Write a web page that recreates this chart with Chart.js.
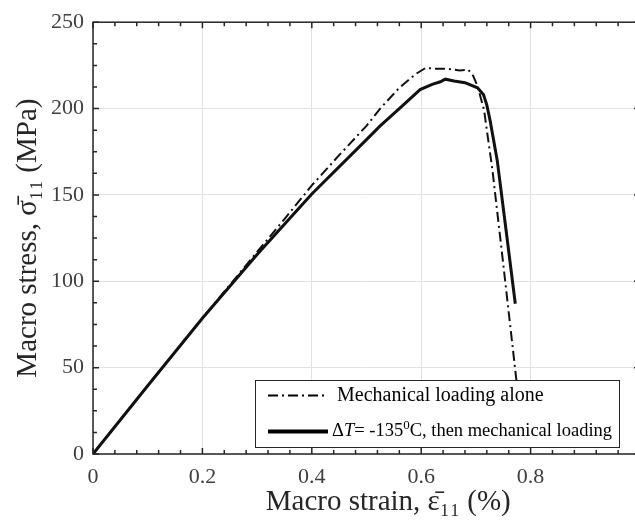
<!DOCTYPE html>
<html lang="en">
<head>
<meta charset="UTF-8">
<title>Macro stress vs macro strain</title>
<script src="https://cdn.jsdelivr.net/npm/chart.js"></script>
<style>
  html, body { margin: 0; padding: 0; background: #fff; overflow: hidden; }
  #wrap { width: 645px; height: 520px; }
</style>
</head>
<body>
<div id="wrap"><canvas id="myChart"></canvas></div>
<script>
// curves: strain in %, stress in MPa
const mechStrain = [0, 0.1, 0.2, 0.3, 0.35, 0.4, 0.45, 0.5, 0.525, 0.56, 0.59, 0.608, 0.63, 0.65, 0.67, 0.686, 0.695, 0.703, 0.715, 0.722, 0.73, 0.75, 0.775];
const mechStress = [0, 39.5, 78.6, 117, 136, 155.5, 173, 190, 200, 212, 220, 223.5, 223, 223, 222, 222.5, 219, 213, 199, 183, 165, 110, 40];

const thermStrain = [0, 0.1, 0.2, 0.3, 0.4, 0.5, 0.525, 0.56, 0.598, 0.62, 0.635, 0.644, 0.66, 0.68, 0.703, 0.714, 0.72, 0.726, 0.739, 0.755, 0.772];
const thermStress = [0, 39.5, 78.6, 115.5, 150.5, 182, 190, 200, 211, 214, 215.5, 217, 216, 215, 212, 208, 202, 193, 170, 130, 87];

const xTicks = [0, 0.2, 0.4, 0.6, 0.8];
const yTicks = [0, 50, 100, 150, 200, 250];
const xMinor = 0.04;
const yMinor = 12.5;

const axisColor = '#262626';
const serif = "'Liberation Serif', 'DejaVu Serif', serif";

function toPoints(xs, ys) {
    return xs.map((x, i) => ({ x: x, y: ys[i] }));
}

function isMajor(v, list) {
    return list.some(t => Math.abs(t - v) < 1e-6);
}

// box around the plot with inward ticks on all four sides, matlab style
const boxTicks = {
    id: 'boxTicks',
    afterDatasetsDraw(chart) {
        const { ctx, chartArea: a, scales: { x, y } } = chart;
        ctx.save();
        ctx.strokeStyle = axisColor;
        ctx.lineWidth = 1.5;
        ctx.beginPath();
        for (let v = x.min; v <= x.max + 1e-9; v += xMinor) {
            const px = x.getPixelForValue(v);
            const len = isMajor(v, xTicks) ? 6 : 4;
            ctx.moveTo(px, a.bottom); ctx.lineTo(px, a.bottom - len);
            ctx.moveTo(px, a.top); ctx.lineTo(px, a.top + len);
        }
        for (let v = y.min; v <= y.max + 1e-9; v += yMinor) {
            const py = y.getPixelForValue(v);
            const len = isMajor(v, yTicks) ? 6 : 4;
            ctx.moveTo(a.left, py); ctx.lineTo(a.left + len, py);
            ctx.moveTo(a.right, py); ctx.lineTo(a.right - len, py);
        }
        ctx.stroke();
        ctx.strokeRect(a.left, a.top, a.right - a.left, a.bottom - a.top);
        ctx.restore();
    }
};

// legend box in the lower right corner
const boxLegend = {
    id: 'boxLegend',
    afterDraw(chart) {
        const ctx = chart.ctx;
        const bx = 255.5, by = 380.5, bw = 364, bh = 67;
        ctx.save();
        ctx.fillStyle = '#fff';
        ctx.fillRect(bx, by, bw, bh);
        ctx.strokeStyle = axisColor;
        ctx.lineWidth = 1;
        ctx.strokeRect(bx, by, bw, bh);

        const rows = [by + 15, by + 51];
        ctx.strokeStyle = '#000';
        ctx.lineWidth = 2;
        ctx.setLineDash([10, 4, 2, 4]);
        ctx.beginPath(); ctx.moveTo(268, rows[0]); ctx.lineTo(328, rows[0]); ctx.stroke();
        ctx.setLineDash([]);
        ctx.lineWidth = 4;
        ctx.beginPath(); ctx.moveTo(268, rows[1]); ctx.lineTo(328, rows[1]); ctx.stroke();

        ctx.fillStyle = '#000';
        ctx.textBaseline = 'middle';
        ctx.font = '20px ' + serif;
        ctx.fillText('Mechanical loading alone', 337, rows[0]);

        // ΔT= -135⁰C, then mechanical loading
        const fs = 18.5;
        let tx = 332;
        const piece = (txt, font, dy) => {
            ctx.font = font;
            ctx.fillText(txt, tx, rows[1] + dy);
            tx += ctx.measureText(txt).width;
        };
        piece('\u0394', fs + 'px ' + serif, 0);
        piece('T', 'italic ' + fs + 'px ' + serif, 0);
        piece('= -135', fs + 'px ' + serif, 0);
        piece('0', Math.round(fs * 0.7) + 'px ' + serif, -6);
        piece('C, then mechanical loading', fs + 'px ' + serif, 0);
        ctx.restore();
    }
};

const config = {
    type: 'line',
    data: {
        datasets: [{
            label: '\u0394T= -135\u2070C, then mechanical loading',
            data: toPoints(thermStrain, thermStress),
            borderColor: '#111',
            borderWidth: 3,
            pointRadius: 0,
            tension: 0
        }, {
            label: 'Mechanical loading alone',
            data: toPoints(mechStrain, mechStress),
            borderColor: '#111',
            borderWidth: 2,
            borderDash: [10, 4, 2, 4],
            pointRadius: 0,
            tension: 0
        }]
    },
    options: {
        responsive: true,
        maintainAspectRatio: false,
        animation: false,
        layout: { padding: { top: 18, right: 5, left: 0, bottom: 0 } },
        plugins: {
            legend: { display: false },
            tooltip: { enabled: false }
        },
        scales: {
            x: {
                type: 'linear',
                min: 0,
                max: 1,
                afterBuildTicks: s => { s.ticks = xTicks.map(v => ({ value: v })); },
                afterFit: s => { s.height = 66; },
                grid: { color: '#e2e2e2', drawTicks: false },
                border: { display: false },
                ticks: {
                    color: '#404040',
                    padding: 10,
                    maxRotation: 0,
                    font: { family: serif, size: 22 },
                    callback: v => String(v)
                },
                title: {
                    display: true,
                    // leading spaces nudge the label right, as in the original
                    text: '      Macro strain, \u03B5\u0304\u2081\u2081 (%)',
                    color: '#262626',
                    font: { family: serif, size: 29 },
                    padding: { top: 0, bottom: 0 }
                }
            },
            y: {
                type: 'linear',
                min: 0,
                max: 250,
                afterBuildTicks: s => { s.ticks = yTicks.map(v => ({ value: v })); },
                afterFit: s => { s.width = 93; },
                grid: { color: '#e2e2e2', drawTicks: false },
                border: { display: false },
                ticks: {
                    color: '#404040',
                    padding: 9,
                    font: { family: serif, size: 22 },
                    callback: v => String(v)
                },
                title: {
                    display: true,
                    text: 'Macro stress, \u03C3\u0304\u2081\u2081 (MPa)',
                    color: '#262626',
                    font: { family: serif, size: 29 },
                    padding: { top: 11, bottom: 0 }
                }
            }
        }
    },
    plugins: [boxTicks, boxLegend]
};

const ctx = document.getElementById('myChart').getContext('2d');
new Chart(ctx, config);
</script>
</body>
</html>
